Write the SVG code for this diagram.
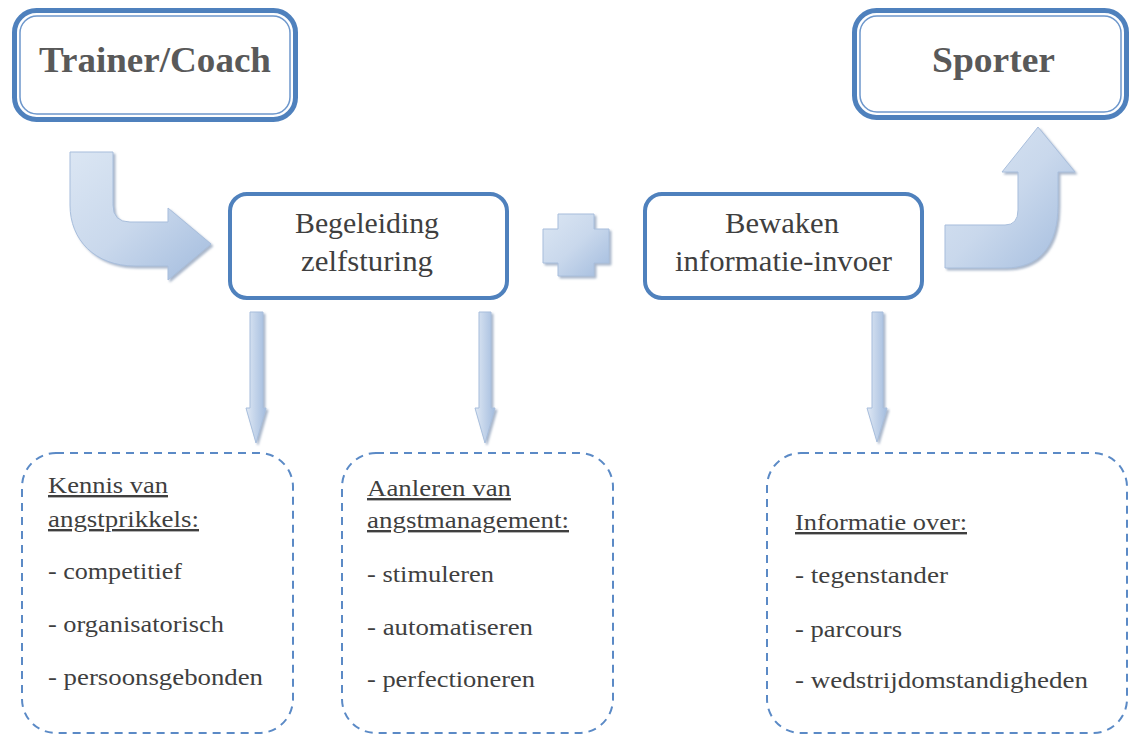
<svg xmlns="http://www.w3.org/2000/svg" width="1130" height="736" viewBox="0 0 1130 736">
<defs>
<style>
.top-outer{fill:#fff;stroke:#4f81bd;stroke-width:5}
.top-inner{fill:none;stroke:#6d97cc;stroke-width:1.5}
.mid{fill:#fff;stroke:#4f81bd;stroke-width:4}
.dash{fill:#fff;stroke:#5b8ac6;stroke-width:2;stroke-dasharray:8 6}
.title{font-family:"Liberation Serif",serif;font-weight:bold;font-size:36px;fill:#595959}
.mtxt{font-family:"Liberation Serif",serif;font-size:29px;fill:#3f3f3f}
.btxt{font-family:"Liberation Serif",serif;font-size:24px;fill:#3f3f3f}
.ul{text-decoration:underline}
.arrow{fill:url(#gBent);stroke:#a8bedc;stroke-width:1;filter:url(#sh)}
.varrow{fill:url(#gDown);stroke:#a8bedc;stroke-width:1;filter:url(#sh)}
</style>
<linearGradient id="gBent" x1="0" y1="0" x2="1" y2="1">
<stop offset="0" stop-color="#dbe6f3"/>
<stop offset="0.5" stop-color="#c9d8ec"/>
<stop offset="1" stop-color="#a3bcde"/>
</linearGradient>
<linearGradient id="gDown" x1="0" y1="0" x2="1" y2="0">
<stop offset="0" stop-color="#dfe8f4"/>
<stop offset="1" stop-color="#a3bcde"/>
</linearGradient>
<filter id="sh" x="-20%" y="-20%" width="140%" height="140%">
<feDropShadow dx="2" dy="2" stdDeviation="1.2" flood-color="#6f86a8" flood-opacity="0.6"/>
</filter>
</defs>
<rect width="1130" height="736" fill="#fff"/>

<g id="connectors">
<path class="arrow" d="M70,152 H113 V205 Q113,222 130,222 H168 V208 L211,244 L168,280 V266 H135 C95,266 70,240 70,205 Z"/>
<path class="arrow" d="M945,225 H1005 Q1018,225 1018,210 V172 H1002 L1038,127 L1075,172 H1058 V205 C1058,245 1040,268 1005,268 H945 Z"/>
<path class="arrow" d="M558,214 H594 V229 H609 V263 H594 V276 H558 V263 H543 V229 H558 Z"/>
<path class="varrow" d="M250,312 H263 V408 H266 L256,443 L246,408 H250 Z"/>
<path class="varrow" d="M479,312 H491 V408 H495 L485,443 L475,408 H479 Z"/>
<path class="varrow" d="M872,312 H883 V408 H887 L877,442 L867,408 H872 Z"/>
</g>

<g id="trainer">
<rect class="top-outer" x="14.5" y="10.5" width="281" height="109" rx="22"/>
<rect class="top-inner" x="20" y="16" width="270" height="98" rx="17"/>
<text class="title" x="39" y="72" textLength="232" lengthAdjust="spacingAndGlyphs">Trainer/Coach</text>
</g>

<g id="sporter">
<rect class="top-outer" x="854.5" y="10.5" width="272" height="107" rx="22"/>
<rect class="top-inner" x="860" y="16" width="261" height="96" rx="17"/>
<text class="title" x="932" y="72" textLength="123" lengthAdjust="spacingAndGlyphs">Sporter</text>
</g>

<g id="begeleiding">
<rect class="mid" x="230" y="194" width="277" height="104" rx="17"/>
<text class="mtxt" x="295" y="233" textLength="144" lengthAdjust="spacingAndGlyphs">Begeleiding</text>
<text class="mtxt" x="301" y="271" textLength="132" lengthAdjust="spacingAndGlyphs">zelfsturing</text>
</g>

<g id="bewaken">
<rect class="mid" x="645" y="194" width="277" height="104" rx="17"/>
<text class="mtxt" x="725" y="233" textLength="114" lengthAdjust="spacingAndGlyphs">Bewaken</text>
<text class="mtxt" x="675" y="271" textLength="217" lengthAdjust="spacingAndGlyphs">informatie-invoer</text>
</g>

<g id="kennis">
<rect class="dash" x="22" y="453" width="271" height="280" rx="34"/>
<text class="btxt ul" x="48" y="493" textLength="120" lengthAdjust="spacingAndGlyphs">Kennis van</text>
<text class="btxt ul" x="48" y="527" textLength="151" lengthAdjust="spacingAndGlyphs">angstprikkels:</text>
<text class="btxt" x="48" y="579" textLength="134" lengthAdjust="spacingAndGlyphs">- competitief</text>
<text class="btxt" x="48" y="632" textLength="176" lengthAdjust="spacingAndGlyphs">- organisatorisch</text>
<text class="btxt" x="48" y="685" textLength="215" lengthAdjust="spacingAndGlyphs">- persoonsgebonden</text>
</g>

<g id="aanleren">
<rect class="dash" x="342" y="453" width="271" height="280" rx="34"/>
<text class="btxt ul" x="367" y="496" textLength="144" lengthAdjust="spacingAndGlyphs">Aanleren van</text>
<text class="btxt ul" x="367" y="528" textLength="202" lengthAdjust="spacingAndGlyphs">angstmanagement:</text>
<text class="btxt" x="367" y="582" textLength="127" lengthAdjust="spacingAndGlyphs">- stimuleren</text>
<text class="btxt" x="367" y="635" textLength="166" lengthAdjust="spacingAndGlyphs">- automatiseren</text>
<text class="btxt" x="367" y="687" textLength="168" lengthAdjust="spacingAndGlyphs">- perfectioneren</text>
</g>

<g id="informatie">
<rect class="dash" x="767" y="453" width="360" height="280" rx="34"/>
<text class="btxt ul" x="795" y="530" textLength="172" lengthAdjust="spacingAndGlyphs">Informatie over:</text>
<text class="btxt" x="795" y="583" textLength="153" lengthAdjust="spacingAndGlyphs">- tegenstander</text>
<text class="btxt" x="795" y="637" textLength="107" lengthAdjust="spacingAndGlyphs">- parcours</text>
<text class="btxt" x="795" y="688" textLength="293" lengthAdjust="spacingAndGlyphs">- wedstrijdomstandigheden</text>
</g>
</svg>
